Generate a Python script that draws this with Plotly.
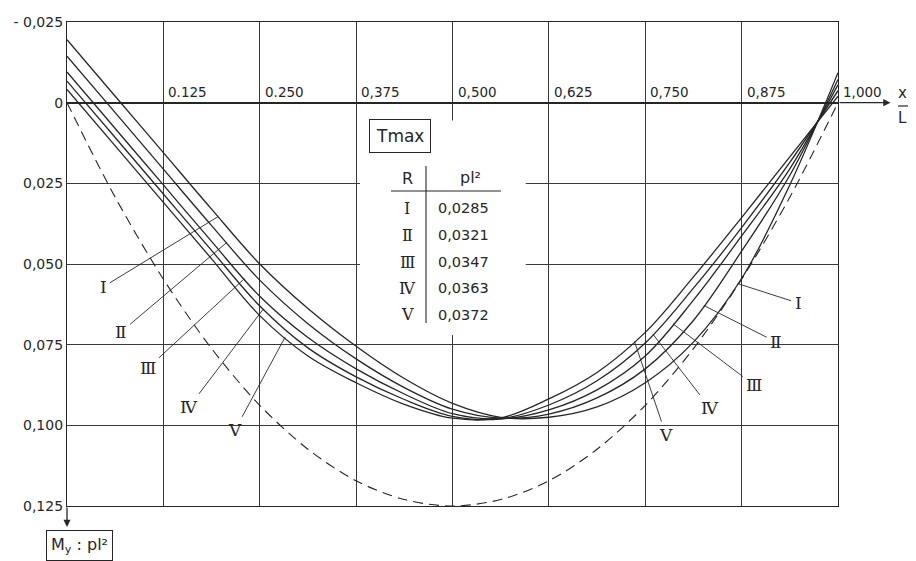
import numpy as np
import plotly.graph_objects as go

# ---------------- data ----------------
x_pos = [0, 0.0625, 0.125, 0.1875, 0.25, 0.3125, 0.375, 0.4375, 0.5,
         0.5625, 0.625, 0.6875, 0.75, 0.8125, 0.875, 0.9375, 1.0]

curve_I   = [-0.0195, -0.0020, 0.0155, 0.0330, 0.0500, 0.0638, 0.0755, 0.0855, 0.0932,
             0.0975, 0.0975, 0.0943, 0.0868, 0.0742, 0.0545, 0.0255, -0.0093]
curve_II  = [-0.0144, 0.0031, 0.0206, 0.0381, 0.0550, 0.0685, 0.0794, 0.0883, 0.0950,
             0.0978, 0.0965, 0.0915, 0.0825, 0.0675, 0.0460, 0.0225, -0.0072]
curve_III = [-0.0095, 0.0080, 0.0255, 0.0430, 0.0600, 0.0728, 0.0825, 0.0903, 0.0964,
             0.0980, 0.0952, 0.0890, 0.0785, 0.0612, 0.0413, 0.0205, -0.0055]
curve_IV  = [-0.0067, 0.0108, 0.0283, 0.0458, 0.0630, 0.0760, 0.0850, 0.0920, 0.0972,
             0.0980, 0.0937, 0.0862, 0.0745, 0.0575, 0.0387, 0.0185, -0.0037]
curve_V   = [-0.0041, 0.0134, 0.0309, 0.0484, 0.0660, 0.0785, 0.0868, 0.0935, 0.0978,
             0.0977, 0.0918, 0.0836, 0.0712, 0.0540, 0.0356, 0.0168, -0.0020]
simple_beam = [0, 0.0293, 0.0547, 0.0762, 0.0938, 0.1074, 0.1172, 0.1230, 0.1250,
               0.1230, 0.1172, 0.1074, 0.0938, 0.0762, 0.0547, 0.0293, 0]

series_names = ["Ⅰ", "Ⅱ", "Ⅲ", "Ⅳ", "Ⅴ"]
series_values = [curve_I, curve_II, curve_III, curve_IV, curve_V]

x_tick_vals = [0.125, 0.250, 0.375, 0.500, 0.625, 0.750, 0.875, 1.000]
x_tick_text = ["0.125", "0.250", "0,375", "0,500", "0,625", "0,750", "0,875", "1,000"]
y_tick_vals = [-0.025, 0, 0.025, 0.050, 0.075, 0.100, 0.125]
y_tick_text = ["- 0,025", "0", "0,025", "0,050", "0,075", "0,100", "0,125"]

table_R = ["Ⅰ", "Ⅱ", "Ⅲ", "Ⅳ", "Ⅴ"]
table_Tmax = ["0,0285", "0,0321", "0,0347", "0,0363", "0,0372"]

# ---------------- geometry (page pixels; the page body adds an 8px offset) ----------------
OFF = 8
W, H = 916 - 2 * OFF, 561 - OFF
PAGE_L, PAGE_T = 67, 22
PW, PH = 771, 484
Y0, Y1 = -0.025, 0.125
ML, MT = PAGE_L - OFF, PAGE_T - OFF
MR, MB = W - ML - PW, H - MT - PH


def px_x(x):
    return PAGE_L + PW * x


def px_y(v):
    return PAGE_T + (v - Y0) / (Y1 - Y0) * PH


def paper_x(px):
    return (px - PAGE_L) / PW


def paper_y(py):
    return (PAGE_T + PH - py) / PH


INK = "#262626"
NUMFONT = "DejaVu Sans"
ROMFONT = "DejaVu Serif"


def text_at(px, py, text, size, family=NUMFONT, xanchor="center", yanchor="middle", **kw):
    d = dict(x=paper_x(px), y=paper_y(py), xref="paper", yref="paper", text=text,
             showarrow=False, xanchor=xanchor, yanchor=yanchor,
             font=dict(family=family, size=size, color=INK))
    d.update(kw)
    return d


fig = go.Figure()

fig.add_trace(go.Scatter(x=x_pos, y=simple_beam, mode="lines",
                         line=dict(color=INK, width=1.1, dash="10px,6px", shape="spline", smoothing=0.9),
                         hoverinfo="skip", showlegend=False))
for name, vals in zip(series_names, series_values):
    fig.add_trace(go.Scatter(x=x_pos, y=vals, mode="lines", name=name,
                             line=dict(color=INK, width=1.3, shape="spline", smoothing=1.0),
                             showlegend=False))

shapes = []
# blank the grid behind the table
shapes.append(dict(type="rect", xref="x", yref="y", x0=0.380, x1=0.595, y0=0.0055, y1=0.072,
                   fillcolor="white", line=dict(width=0), layer="between"))
# table rules
shapes.append(dict(type="line", xref="paper", yref="paper",
                   x0=paper_x(391), x1=paper_x(501), y0=paper_y(191), y1=paper_y(191),
                   line=dict(color=INK, width=1.1)))
shapes.append(dict(type="line", xref="paper", yref="paper",
                   x0=paper_x(426), x1=paper_x(426), y0=paper_y(166), y1=paper_y(323),
                   line=dict(color=INK, width=1.1)))
# x/L fraction bar
shapes.append(dict(type="line", xref="paper", yref="paper",
                   x0=paper_x(898), x1=paper_x(908), y0=paper_y(106), y1=paper_y(106),
                   line=dict(color=INK, width=1.2)))

ann = []
# x tick labels above the zero line
for v, t in zip(x_tick_vals, x_tick_text):
    ann.append(dict(x=v, y=0, xref="x", yref="y", text=t, showarrow=False,
                    xanchor="left", yanchor="bottom", xshift=3, yshift=1,
                    font=dict(family=NUMFONT, size=13.5, color=INK)))
# axis arrows
ann.append(dict(x=1.068, y=0, ax=1.0, ay=0, xref="x", yref="y", axref="x", ayref="y",
                text="", showarrow=True, arrowhead=2, arrowsize=1.1, arrowwidth=1.3, arrowcolor=INK))
ann.append(dict(x=0, y=0.1315, ax=0, ay=0.125, xref="x", yref="y", axref="x", ayref="y",
                text="", showarrow=True, arrowhead=2, arrowsize=1.1, arrowwidth=1.3, arrowcolor=INK))
# x / L
ann.append(text_at(903, 104, "x", 15, yanchor="bottom"))
ann.append(text_at(903, 107, "L", 15, yanchor="top"))
# M_y : pl^2 box
ann.append(text_at(79, 530, "M<sub>y</sub> : pl²", 16, yanchor="top",
                   bordercolor=INK, borderwidth=1, borderpad=4, bgcolor="white"))
# Tmax box
ann.append(text_at(400, 135.5, "Tmax", 17, bordercolor=INK, borderwidth=1, borderpad=6,
                   bgcolor="white"))
# table header
ann.append(text_at(407, 178, "R", 16))
ann.append(text_at(470, 177, "pl²", 16))
row_y = [208, 235, 262, 288, 315]
for ry, rn, tv in zip(row_y, table_R, table_Tmax):
    ann.append(text_at(407, ry, rn, 16, family=ROMFONT))
    ann.append(text_at(436, ry, tv, 14.5, xanchor="left"))

# curve labels with leader lines
left_touch = [0.196, 0.207, 0.230, 0.2546, 0.283]
left_label_px = [(103, 287), (121, 332), (148, 368), (189, 407), (235, 430)]
right_touch = [0.870, 0.826, 0.786, 0.760, 0.736]
right_label_px = [(798, 303), (776, 342), (754, 385), (710, 408), (666, 435)]
for touches, labels in ((left_touch, left_label_px), (right_touch, right_label_px)):
    for name, vals, xt, (lx, ly) in zip(series_names, series_values, touches, labels):
        yt = float(np.interp(xt, x_pos, vals))
        ann.append(dict(x=xt, y=yt, xref="x", yref="y", text=name, showarrow=True,
                        ax=lx - px_x(xt), ay=ly - px_y(yt), arrowhead=0, arrowwidth=0.9,
                        arrowcolor=INK, standoff=0, startstandoff=2,
                        xanchor="center", yanchor="middle",
                        font=dict(family=ROMFONT, size=17, color=INK)))

fig.update_layout(
    width=W, height=H,
    margin=dict(l=ML, r=MR, t=MT, b=MB, pad=0, autoexpand=False),
    paper_bgcolor="white", plot_bgcolor="white",
    showlegend=False,
    shapes=shapes, annotations=ann,
    xaxis=dict(range=[0, 1], tickvals=x_tick_vals, showticklabels=False, ticks="",
               automargin=False,
               showgrid=True, gridcolor="#3a3a3a", gridwidth=0.9,
               zeroline=False, showline=True, mirror=True, linecolor=INK, linewidth=1.2),
    yaxis=dict(range=[Y1, Y0], tickvals=y_tick_vals, ticktext=y_tick_text, ticks="",
               automargin=False,
               tickfont=dict(family=NUMFONT, size=14, color=INK),
               showgrid=True, gridcolor="#3a3a3a", gridwidth=0.9,
               zeroline=True, zerolinecolor=INK, zerolinewidth=1.6,
               showline=True, mirror=True, linecolor=INK, linewidth=1.2),
)

fig.write_html("out.html")
